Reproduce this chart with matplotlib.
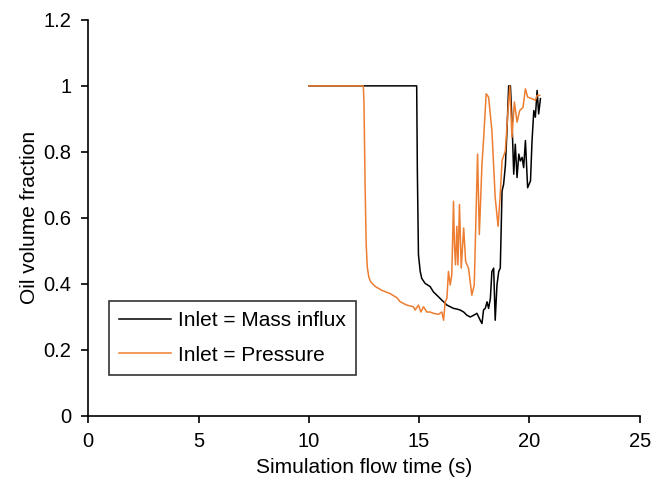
import matplotlib
matplotlib.use("Agg")
import matplotlib.pyplot as plt

plt.rcParams['font.family'] = ['Liberation Sans', 'DejaVu Sans']

# Inlet = Mass influx (black)
t_mass = [10, 14.89, 14.92, 14.97, 15.05, 15.12, 15.27, 15.50, 15.65, 15.88, 16.03,
          16.11, 16.26, 16.41, 16.56, 16.71, 16.86, 17.02, 17.17, 17.32, 17.47,
          17.62, 17.77, 17.85, 17.92, 18.00, 18.08, 18.15, 18.23, 18.30, 18.38,
          18.45, 18.53, 18.61, 18.68, 18.76, 18.83, 18.91, 18.98, 19.06, 19.14,
          19.21, 19.29, 19.36, 19.44, 19.52, 19.59, 19.67, 19.74, 19.82, 19.92,
          20.05, 20.12, 20.20, 20.27, 20.35, 20.42, 20.50]
v_mass = [1.0, 1.0, 0.742, 0.488, 0.437, 0.416, 0.401, 0.391, 0.375, 0.360, 0.350,
          0.345, 0.335, 0.330, 0.325, 0.323, 0.320, 0.314, 0.304, 0.299, 0.304,
          0.310, 0.289, 0.279, 0.320, 0.325, 0.345, 0.325, 0.355, 0.437, 0.447,
          0.289, 0.396, 0.437, 0.447, 0.681, 0.701, 0.757, 0.859, 1.0, 1.0,
          0.895, 0.732, 0.823, 0.722, 0.793, 0.772, 0.783, 0.752, 0.834, 0.691,
          0.712, 0.834, 0.925, 0.905, 0.986, 0.915, 0.961]

# Inlet = Pressure (orange)
t_pres = [10, 12.47, 12.50, 12.55, 12.60, 12.65, 12.72, 12.80, 13.0, 13.3, 13.68,
          14.0, 14.14, 14.44, 14.74, 14.82, 14.97, 15.08, 15.20, 15.35, 15.50,
          15.65, 15.88, 16.03, 16.11, 16.18, 16.26, 16.33, 16.41, 16.48, 16.56,
          16.60, 16.65, 16.71, 16.76, 16.83, 16.91, 17.02, 17.11, 17.24, 17.39,
          17.50, 17.65, 17.73, 17.85, 17.92, 18.04, 18.15, 18.30, 18.45, 18.58,
          18.68, 18.76, 18.91, 19.02, 19.11, 19.21, 19.32, 19.44, 19.56, 19.71,
          19.82, 19.92, 20.12, 20.27, 20.35, 20.47]
v_pres = [1.0, 1.0, 0.95, 0.70, 0.52, 0.45, 0.42, 0.406, 0.392, 0.38, 0.37,
          0.357, 0.345, 0.335, 0.330, 0.320, 0.335, 0.314, 0.330, 0.314, 0.314,
          0.310, 0.307, 0.314, 0.289, 0.345, 0.355, 0.437, 0.396, 0.426, 0.650,
          0.518, 0.457, 0.574, 0.457, 0.640, 0.447, 0.569, 0.467, 0.447, 0.365,
          0.396, 0.793, 0.549, 0.763, 0.834, 0.976, 0.966, 0.864, 0.661, 0.574,
          0.671, 0.773, 0.803, 0.915, 1.0, 0.844, 0.951, 0.890, 0.925, 0.935,
          0.991, 0.966, 0.961, 0.956, 0.971, 0.971]

x_ticks = [0, 5, 10, 15, 20, 25]
y_ticks = [0, 0.2, 0.4, 0.6, 0.8, 1.0, 1.2]
y_ticklabels = ['0', '0.2', '0.4', '0.6', '0.8', '1', '1.2']

fig = plt.figure(figsize=(6.51, 4.86), dpi=100)
ax = fig.add_axes([0.1356, 0.145, 0.847, 0.814])

ax.plot(t_mass, v_mass, color='black', lw=1.1, label='Inlet = Mass influx')
ax.plot(t_pres, v_pres, color='#ED7D31', lw=1.1, label='Inlet = Pressure')

ax.set_xlim(0, 25)
ax.set_ylim(0, 1.2)
ax.set_xticks(x_ticks)
ax.set_yticks(y_ticks)
ax.set_yticklabels(y_ticklabels)
ax.spines['top'].set_visible(False)
ax.spines['right'].set_visible(False)
ax.spines['left'].set_linewidth(1.2)
ax.spines['bottom'].set_linewidth(1.2)
ax.tick_params(labelsize=14.5, direction='out', length=5, width=1.2, pad=7)
ax.set_xlabel('Simulation flow time (s)', fontsize=15, labelpad=5)
ax.set_ylabel('Oil volume fraction', fontsize=15, labelpad=3)

leg = ax.legend(loc='lower left', bbox_to_anchor=(0.0375, 0.102), borderaxespad=0,
                fontsize=15, frameon=True, fancybox=False, handlelength=2.5,
                handletextpad=0.3, labelspacing=0.75, borderpad=0.5)
leg.get_frame().set_edgecolor('black')
leg.get_frame().set_linewidth(1.2)

fig.savefig('out.png', dpi=100)
